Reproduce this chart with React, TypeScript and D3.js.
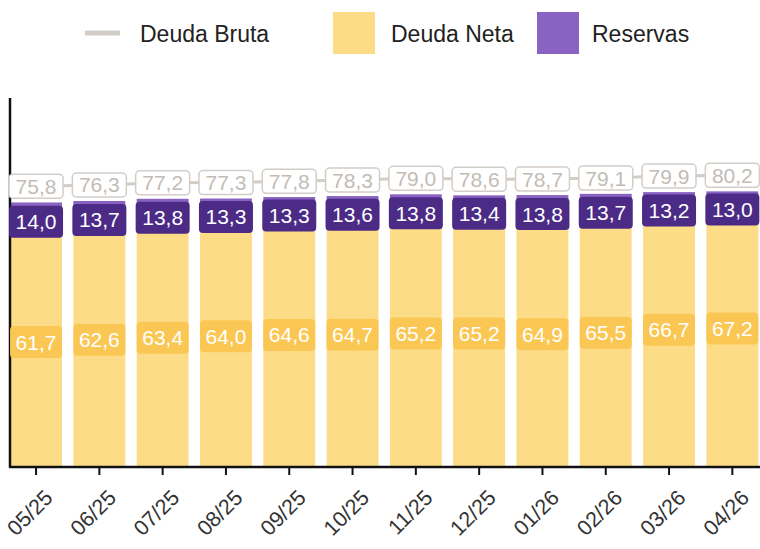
import React from "react";
import * as d3 from "d3";

const months = ["05/25","06/25","07/25","08/25","09/25","10/25","11/25","12/25","01/26","02/26","03/26","04/26"];
const deudaNeta = [61.7, 62.6, 63.4, 64.0, 64.6, 64.7, 65.2, 65.2, 64.9, 65.5, 66.7, 67.2];
const reservas = [14.0, 13.7, 13.8, 13.3, 13.3, 13.6, 13.8, 13.4, 13.8, 13.7, 13.2, 13.0];
const deudaBruta = [75.8, 76.3, 77.2, 77.3, 77.8, 78.3, 79.0, 78.6, 78.7, 79.1, 79.9, 80.2];
const yDomain = [-31, 118];

const W = 760, H = 549;
const FONT = "'Liberation Sans', Arial, Helvetica, sans-serif";
const C_NETA = "#FDDC88";
const C_NETA_LBL = "#FBC754";
const C_RES = "#8A63C2";
const C_RES_LBL = "#4B2B86";
const C_BRUTA = "#D3CDC7";
const C_BRUTA_TXT = "#C2BCB6";

const fmt = (v: number) => v.toFixed(1).replace(".", ",");

export default function App() {
  const x = d3.scaleBand<string>().domain(months).range([4.4, 764]).paddingInner(0.18).paddingOuter(0.09);
  const y = d3.scaleLinear().domain(yDomain).range([466, 98]);
  const rows = months.map((m, i) => ({ m, neta: deudaNeta[i], res: reservas[i] }));
  const stack = d3.stack<any>().keys(["neta", "res"])(rows);
  const bw = x.bandwidth();
  const cx = (m: string) => (x(m) as number) + bw / 2;
  const yBottom = y(yDomain[0]);
  const brutaY = (v: number) => y(v) - 16;
  const line = d3.line<number>().x((_, i) => cx(months[i])).y((v) => brutaY(v));

  return (
    <svg width={W} height={H} style={{ position: "absolute", left: 0, top: 0, background: "#fff" }} fontFamily={FONT}>
      {/* legend */}
      <g>
        <line x1={85} x2={120} y1={33} y2={33} stroke={C_BRUTA} strokeWidth={5} />
        <text x={140} y={42} fontSize={23} fill="#222">Deuda Bruta</text>
        <rect x={333} y={12} width={42} height={42} fill={C_NETA} />
        <text x={391} y={42} fontSize={23} fill="#222">Deuda Neta</text>
        <rect x={537} y={12} width={42} height={42} fill={C_RES} />
        <text x={592} y={42} fontSize={23} fill="#222">Reservas</text>
      </g>
      {/* bars */}
      {stack.map((layer, li) => (
        <g key={li}>
          {layer.map((d: any, i: number) => {
            const y0 = li === 0 ? yBottom : y(d[0]);
            const y1 = y(d[1]);
            return <rect key={i} x={x(months[i])} width={bw} y={y1} height={y0 - y1} fill={li === 0 ? C_NETA : C_RES} />;
          })}
        </g>
      ))}
      {/* axes */}
      <line x1={10} x2={10} y1={98} y2={467.5} stroke="#111" strokeWidth={2.5} />
      <line x1={9} x2={760} y1={467} y2={467} stroke="#111" strokeWidth={2.5} />
      {months.map((m) => (
        <g key={m}>
          <line x1={cx(m)} x2={cx(m)} y1={467} y2={475} stroke="#111" strokeWidth={2} />
          <text transform={`translate(${cx(m) + 18},${499}) rotate(-45)`} textAnchor="end" fontSize={21.5} fill="#333">{m}</text>
        </g>
      ))}
      {/* neta labels */}
      {stack[0].map((d: any, i: number) => {
        const yc = y(d[1]) + 105;
        return (
          <g key={i}>
            <rect x={cx(months[i]) - 26} y={yc - 16} width={52} height={32} rx={4} fill={C_NETA_LBL} />
            <text x={cx(months[i])} y={yc + 7.5} textAnchor="middle" fontSize={21} fill="#fff">{fmt(deudaNeta[i])}</text>
          </g>
        );
      })}
      {/* reservas labels */}
      {stack[1].map((d: any, i: number) => {
        const yc = (y(d[0]) + y(d[1])) / 2 + 2;
        return (
          <g key={i}>
            <rect x={cx(months[i]) - 27} y={yc - 16} width={54} height={32} rx={4} fill={C_RES_LBL} />
            <text x={cx(months[i])} y={yc + 7.5} textAnchor="middle" fontSize={21} fill="#fff">{fmt(reservas[i])}</text>
          </g>
        );
      })}
      {/* bruta line + labels */}
      <path d={line(deudaBruta) || ""} fill="none" stroke={C_BRUTA} strokeWidth={3} />
      {deudaBruta.map((v, i) => (
        <g key={i}>
          <rect x={cx(months[i]) - 27} y={brutaY(v) - 12} width={54} height={24} rx={4} fill="#fff" stroke={C_BRUTA} strokeWidth={1.5} />
          <text x={cx(months[i])} y={brutaY(v) + 7.5} textAnchor="middle" fontSize={21} fill={C_BRUTA_TXT}>{fmt(v)}</text>
        </g>
      ))}
    </svg>
  );
}
